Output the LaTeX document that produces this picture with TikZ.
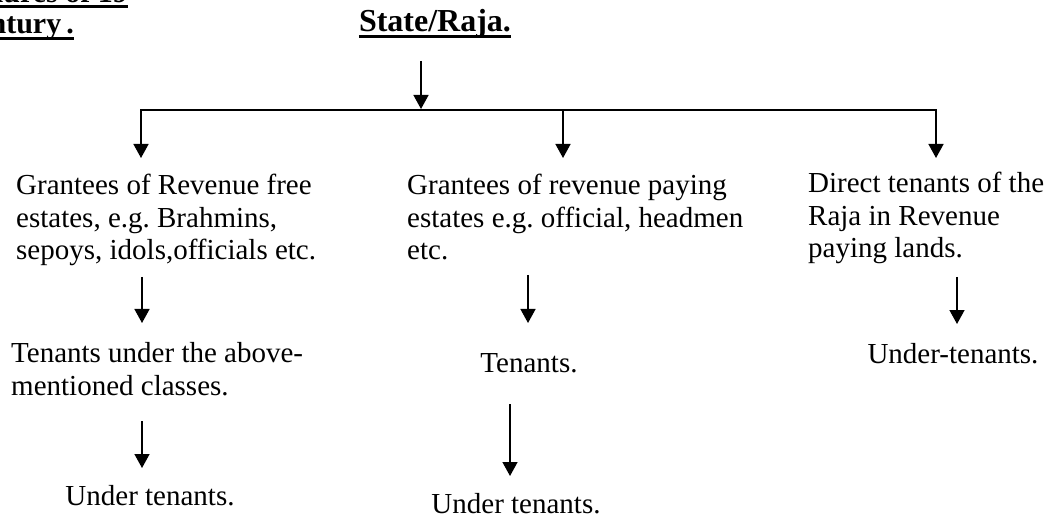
\documentclass[tikz,border=0pt]{standalone}
\usepackage{fontspec}
\setmainfont{Liberation Serif}
\usetikzlibrary{arrows.meta}
\frenchspacing
\begin{document}
\begin{tikzpicture}[x=1pt,y=-1pt,
  txt/.style={font=\fontsize{29}{32.5}\selectfont, inner sep=0pt, align=left},
  head/.style={font=\fontsize{32}{32}\selectfont\bfseries, inner sep=0pt},
  lhead/.style={font=\fontsize{30}{30}\selectfont\bfseries, inner sep=0pt},
  arr/.style={line width=1.5pt, -{Triangle[length=14pt,width=15pt]}},
  barline/.style={line width=2.5pt},
  uline/.style={line width=3pt}]
\useasboundingbox (0,0) rectangle (1051,518);
\clip (0,0) rectangle (1051,518);
% headings
\node[head, anchor=base] (state) at (435,32) {State/Raja.};
\draw[uline] ([yshift=-4.5pt]state.base west) -- ([yshift=-4.5pt]state.base east);
\node[lhead, anchor=base east] (h1) at (128,3) {Land tenures of 19};
\draw[uline] ([yshift=-4pt]h1.base west) -- ([yshift=-4pt]h1.base east);
\node[lhead, anchor=base east] (h2) at (74,34) {century\kern5pt.};
\draw[uline] ([yshift=-5pt]h2.base west) -- ([yshift=-5pt]h2.base east);
% text blocks (anchored at the baseline of their last line)
\node[txt, anchor=base west] (g1) at (16,260) {Grantees of Revenue free\\estates, e.g. Brahmins,\\sepoys, idols,officials etc.};
\node[txt, anchor=base west] (g2) at (407,260) {Grantees of revenue paying\\estates e.g. official, headmen\\etc.};
\node[txt, anchor=base west] (g3) at (808,258) {Direct tenants of the\\Raja in Revenue\\paying lands.};
\node[txt, anchor=base west] (t1) at (11,395) {Tenants under the above-\\mentioned classes.};
\node[txt, anchor=base] (u1) at (150,505) {Under tenants.};
\node[txt, anchor=base] (t2) at (529,372) {Tenants.};
\node[txt, anchor=base] (u2) at (516,513) {Under tenants.};
\node[txt, anchor=base] (u3) at (953,363) {Under-tenants.};
% connector points
\coordinate (s0) at (421,61);  \coordinate (s1) at (421,109);
\coordinate (bl) at (141,110); \coordinate (bm) at (563,110); \coordinate (br) at (936,110);
\coordinate (g1t) at (141,158); \coordinate (g2t) at (563,158); \coordinate (g3t) at (936,158);
\coordinate (a1s) at (142,277); \coordinate (a1e) at (142,323);
\coordinate (a2s) at (142,421); \coordinate (a2e) at (142,468);
\coordinate (a3s) at (528,275); \coordinate (a3e) at (528,323);
\coordinate (a4s) at (510,404); \coordinate (a4e) at (510,476);
\coordinate (a5s) at (957,277); \coordinate (a5e) at (957,324);
% connectors
\draw[barline] ([xshift=-0.75pt]bl) -- ([xshift=0.75pt]br);
\draw[arr] (s0) -- (s1);
\draw[arr] (bl) -- (g1t);
\draw[arr] (bm) -- (g2t);
\draw[arr] (br) -- (g3t);
\draw[arr] (a1s) -- (a1e);
\draw[arr] (a2s) -- (a2e);
\draw[arr] (a3s) -- (a3e);
\draw[arr] (a4s) -- (a4e);
\draw[arr] (a5s) -- (a5e);
\end{tikzpicture}
\end{document}
